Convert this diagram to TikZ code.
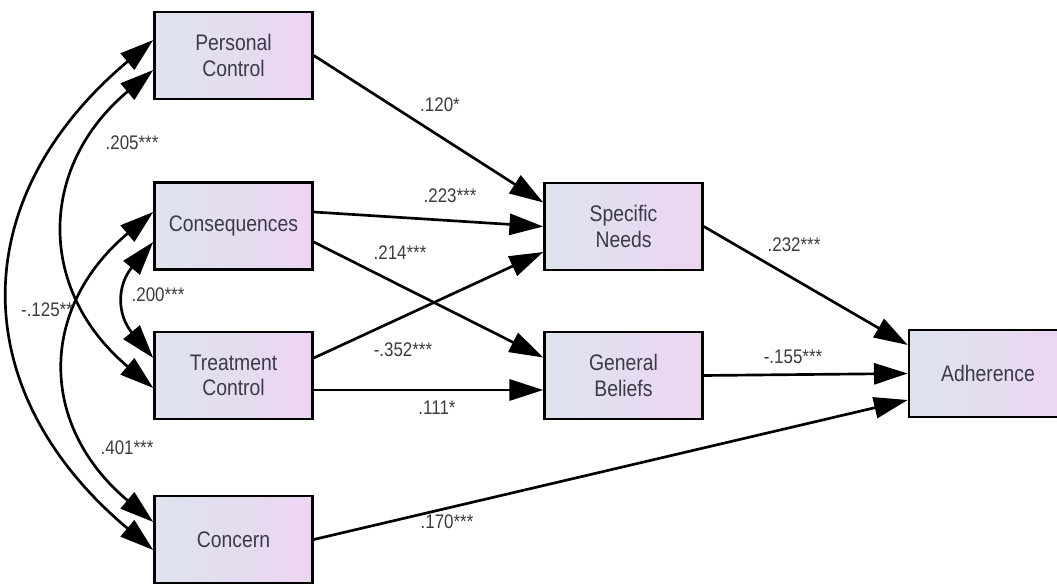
\documentclass[tikz,border=0pt]{standalone}
\usepackage{fontspec}
\setmainfont[FakeStretch=0.86]{Liberation Sans}
\usetikzlibrary{arrows.meta,calc}
\definecolor{boxleft}{HTML}{DDE4EE}
\definecolor{boxright}{HTML}{EDD5F1}
\definecolor{boxtext}{HTML}{3A3A4A}
\definecolor{coeftext}{HTML}{3C3C3C}
\tikzset{
  var/.style={draw=black, line width=1.8pt, left color=boxleft, right color=boxright,
    minimum width=3.95cm, minimum height=2.175cm, inner sep=0pt, align=center,
    text=boxtext, font=\fontsize{16}{18}\selectfont},
  reg/.style={-{Triangle[length=24pt,width=15pt]}, line width=1.9pt},
  cov/.style={{Triangle[length=24pt,width=15pt]}-{Triangle[length=24pt,width=15pt]}, line width=1.9pt},
  coef/.style={font=\fontsize{14}{16}\selectfont, text=coeftext, inner sep=1pt}
}

\begin{document}
\begin{tikzpicture}[x=0.025cm, y=0.025cm]
  \useasboundingbox (0,0) rectangle (1057,584);
  % variables
  \node[var] (pc) at (233.5,528.5) {Personal\\Control};
  \node[var] (cons) at (233.5,358) {Consequences};
  \node[var] (tc) at (233.5,208.5) {Treatment\\Control};
  \node[var] (conc) at (233.5,44.5) {Concern};
  \node[var] (sn) at (623.5,357.5) {Specific\\Needs};
  \node[var] (gb) at (623.5,208.5) {General\\Beliefs};
  \node[var] (adh) at (988,210.5) {Adherence};
  % paths
  \draw[reg] (pc.east) -- ($(sn.west)+(0,24)$);
  \draw[reg] ($(cons.east)+(0,14)$) -- (sn.west);
  \draw[reg] ($(cons.east)+(0,-16)$) -- ($(gb.west)+(0,18)$);
  \draw[reg] ($(tc.east)+(0,17.5)$) -- ($(sn.west)+(0,-25.5)$);
  \draw[reg] ($(tc.east)+(0,-14.5)$) -- ($(gb.west)+(0,-14.5)$);
  \draw[reg] (sn.east) -- ($(adh.west)+(0,28.5)$);
  \draw[reg] (gb.east) -- (adh.west);
  \draw[reg] (conc.east) -- ($(adh.west)+(0,-26.5)$);
  % covariances
  \draw[cov] ($(pc.west)+(0,15.5)$) to[out=220,in=140,looseness=1.24] ($(conc.west)+(0,-10.5)$);
  \draw[cov] ($(pc.west)+(0,-14.5)$) to[out=220,in=140,looseness=1.22] ($(tc.west)+(0,-12.5)$);
  \draw[cov] ($(cons.west)+(0,14)$) to[out=220,in=140,looseness=1.24] ($(conc.west)+(0,17.5)$);
  \draw[cov] ($(cons.west)+(0,-16)$) to[out=230,in=130,looseness=1.25] ($(tc.west)+(0,17.5)$);
  % coefficients
  \node[coef] (c120) at (440,479) {.120*};
  \node[coef] (c223) at (450,388) {.223***};
  \node[coef] (c214) at (400,331) {.214***};
  \node[coef] (c352) at (403,234) {-.352***};
  \node[coef] (c111) at (437,176) {.111*};
  \node[coef] (c232) at (794,339) {.232***};
  \node[coef] (c155) at (793,227) {-.155***};
  \node[coef] (c170) at (447,62) {.170***};
  \node[coef] (c205) at (132,441) {.205***};
  \node[coef] (c200) at (158,289) {.200***};
  \node[coef] (c125) at (47,274) {-.125**};
  \node[coef] (c401) at (127,136) {.401***};
\end{tikzpicture}
\end{document}
